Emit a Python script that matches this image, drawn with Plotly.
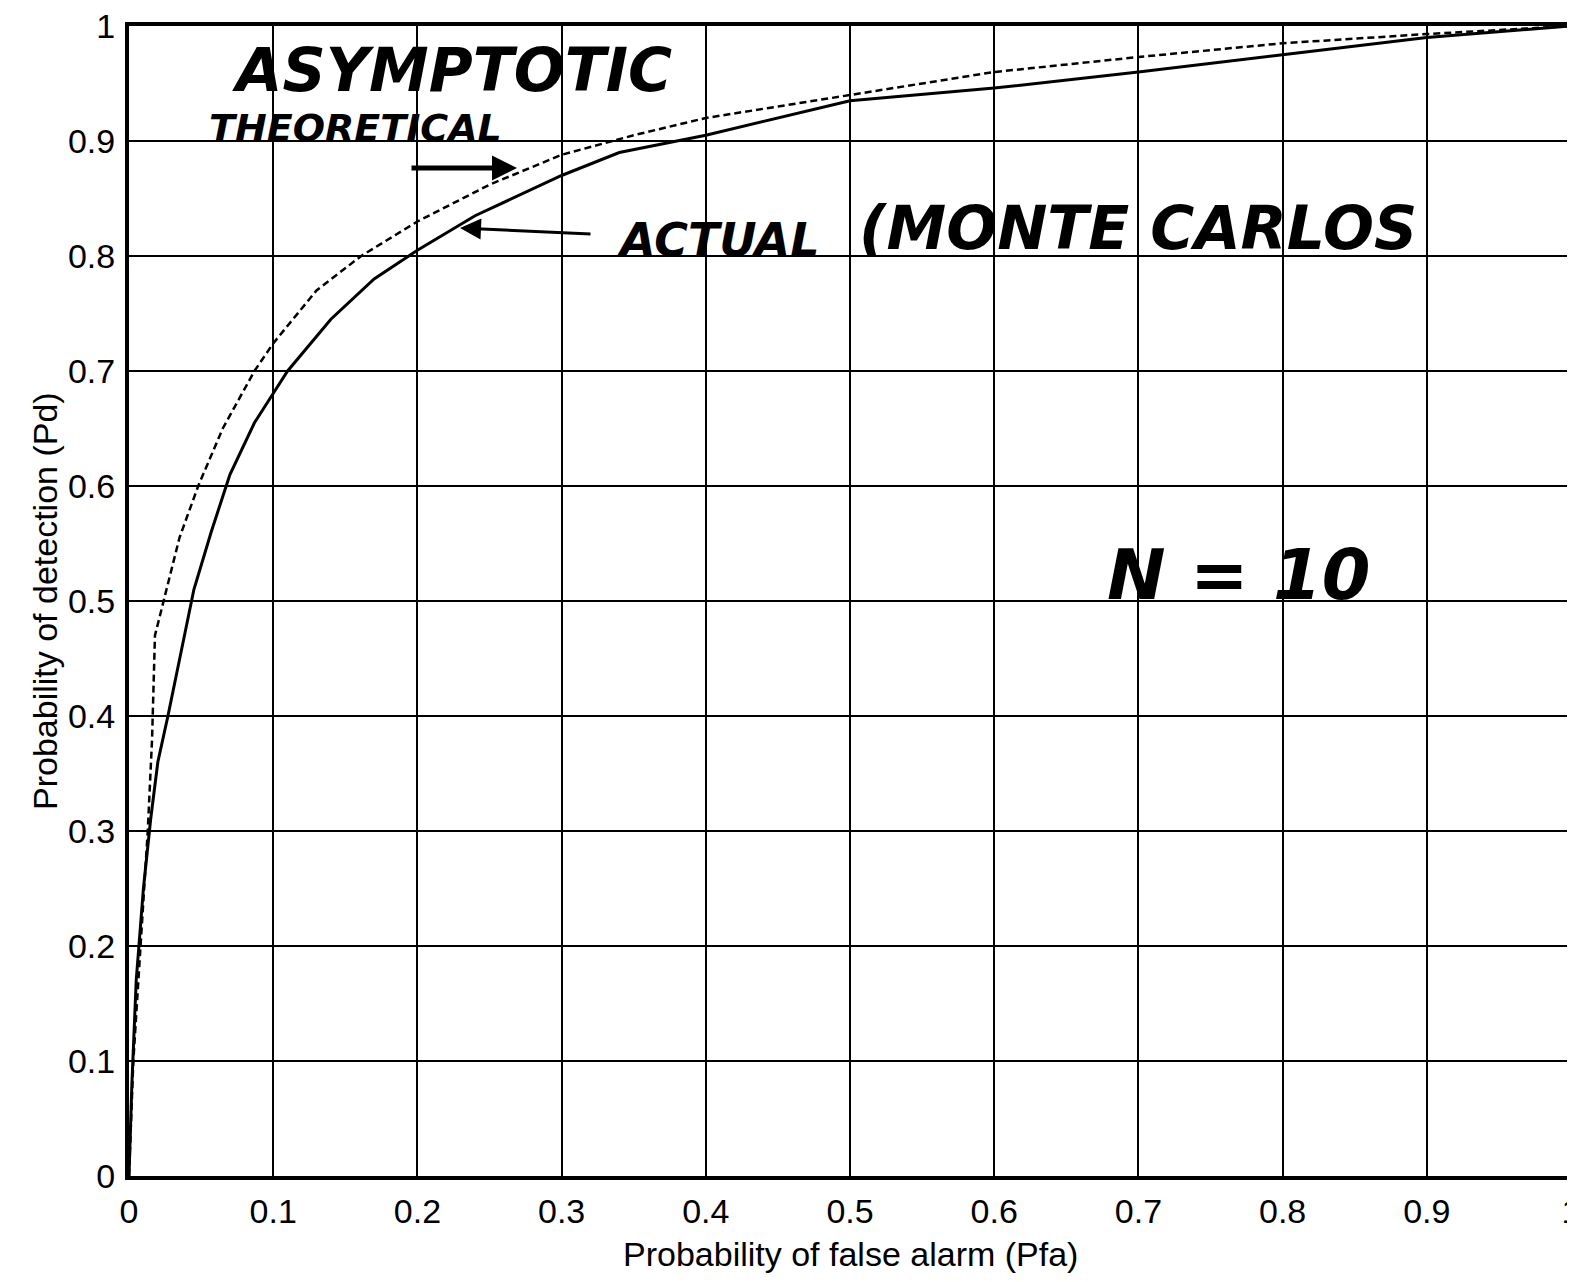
import plotly.graph_objects as go

# ---- data ----
pfa_actual = [0.0, 0.002, 0.005, 0.010, 0.015, 0.020, 0.027, 0.035, 0.045, 0.057,
              0.070, 0.087, 0.110, 0.140, 0.170, 0.200, 0.240, 0.300, 0.340, 0.400,
              0.500, 0.600, 0.700, 0.800, 0.900, 1.000]
pd_actual = [0.0, 0.08, 0.17, 0.25, 0.31, 0.36, 0.40, 0.45, 0.51, 0.56,
             0.61, 0.655, 0.70, 0.745, 0.78, 0.805, 0.835, 0.87, 0.89, 0.905,
             0.935, 0.946, 0.96, 0.975, 0.99, 1.0]

pfa_theory = [0.0, 0.003, 0.008, 0.013, 0.016, 0.018, 0.026, 0.035, 0.048, 0.065,
              0.087, 0.100, 0.130, 0.161, 0.200, 0.250, 0.300, 0.350, 0.400, 0.500,
              0.600, 0.700, 0.800, 0.900, 1.000]
pd_theory = [0.0, 0.10, 0.20, 0.30, 0.38, 0.47, 0.51, 0.555, 0.60, 0.65,
             0.70, 0.724, 0.77, 0.80, 0.83, 0.862, 0.888, 0.905, 0.92, 0.94,
             0.96, 0.973, 0.985, 0.993, 1.0]

x_ticks = [0, 0.1, 0.2, 0.3, 0.4, 0.5, 0.6, 0.7, 0.8, 0.9, 1]
x_tick_labels = ["0", "0.1", "0.2", "0.3", "0.4", "0.5", "0.6", "0.7", "0.8", "0.9", "1"]
y_ticks = [0, 0.1, 0.2, 0.3, 0.4, 0.5, 0.6, 0.7, 0.8, 0.9, 1]
y_tick_labels = ["0", "0.1", "0.2", "0.3", "0.4", "0.5", "0.6", "0.7", "0.8", "0.9", "1"]

x_title = "Probability of false alarm (Pfa)"
y_title = "Probability of detection (Pd)"

# page geometry (body has an 8px default margin)
OFF = 8
PLOT_L, PLOT_R, PLOT_T, PLOT_B = 129, 1571, 26, 1176
W, H = 1575 - OFF, 1282 - OFF
L, T = PLOT_L - OFF, PLOT_T - OFF
R = W + OFF - PLOT_R
B = H + OFF - PLOT_B


def dx(px):
    return (px - PLOT_L) / (PLOT_R - PLOT_L)


def dy(py):
    return (PLOT_B - py) / (PLOT_B - PLOT_T)


fig = go.Figure()
fig.add_trace(go.Scatter(x=pfa_theory, y=pd_theory, mode="lines",
                         line=dict(color="black", width=2.5, dash="7px,4px"),
                         name="Asymptotic theoretical"))
fig.add_trace(go.Scatter(x=pfa_actual, y=pd_actual, mode="lines",
                         line=dict(color="black", width=3),
                         name="Actual (Monte Carlo)"))

tick_font = dict(family="Liberation Sans, Arial", size=34, color="black")
hand = dict(family="DejaVu Sans", color="black", weight="bold", style="italic")

fig.update_layout(
    width=W, height=H,
    margin=dict(l=L, r=R, t=T, b=B, pad=0, autoexpand=False),
    paper_bgcolor="white", plot_bgcolor="white",
    showlegend=False,
    xaxis=dict(range=[0, 1], tickvals=x_ticks, ticktext=x_tick_labels,
               showgrid=True, gridcolor="black", gridwidth=2, zeroline=False,
               showline=True, linecolor="black", linewidth=4, mirror=True,
               ticks="", tickfont=tick_font, ticklabelstandoff=2,
               automargin=False, ticklabeloverflow="allow"),
    yaxis=dict(range=[0, 1], tickvals=y_ticks, ticktext=y_tick_labels,
               showgrid=True, gridcolor="black", gridwidth=2, zeroline=False,
               showline=True, linecolor="black", linewidth=4, mirror=True,
               ticks="", tickfont=tick_font, ticklabelstandoff=3,
               automargin=False, ticklabeloverflow="allow"),
)

annotations = [
    dict(text=x_title, xref="paper", yref="paper", x=0.5, y=dy(1254), yanchor="middle",
         xanchor="center", showarrow=False,
         font=dict(family="Liberation Sans, Arial", size=34, color="black")),
    dict(text=y_title, xref="paper", yref="paper", x=dx(45), y=0.5, textangle=-90,
         xanchor="center", yanchor="middle", showarrow=False,
         font=dict(family="Liberation Sans, Arial", size=34, color="black")),
    # handwritten notes
    dict(text="ASYMPTOTIC", x=dx(452), y=dy(70), xref="x", yref="y", showarrow=False,
         font=dict(size=60, **hand)),
    dict(text="THEORETICAL", x=dx(355), y=dy(128), xref="x", yref="y", showarrow=False,
         font=dict(size=38, **hand)),
    dict(text="ACTUAL", x=dx(718), y=dy(240), xref="x", yref="y", showarrow=False,
         font=dict(size=46, **hand)),
    dict(text="(MONTE CARLOS", x=dx(1138), y=dy(228), xref="x", yref="y", showarrow=False,
         font=dict(size=60, **hand)),
    dict(text="N = 10", x=dx(1238), y=dy(575), xref="x", yref="y", showarrow=False,
         font=dict(size=70, **hand)),
    # arrows
    dict(text="", x=dx(517), y=dy(168), ax=dx(410), ay=dy(168), xref="x", yref="y",
         axref="x", ayref="y", showarrow=True, arrowhead=2, arrowsize=1,
         arrowwidth=5, arrowcolor="black"),
    dict(text="", x=dx(460), y=dy(228), ax=dx(592), ay=dy(234), xref="x", yref="y",
         axref="x", ayref="y", showarrow=True, arrowhead=2, arrowsize=1.4,
         arrowwidth=3, arrowcolor="black"),
]
fig.update_layout(annotations=annotations)

fig.write_html("out.html")
